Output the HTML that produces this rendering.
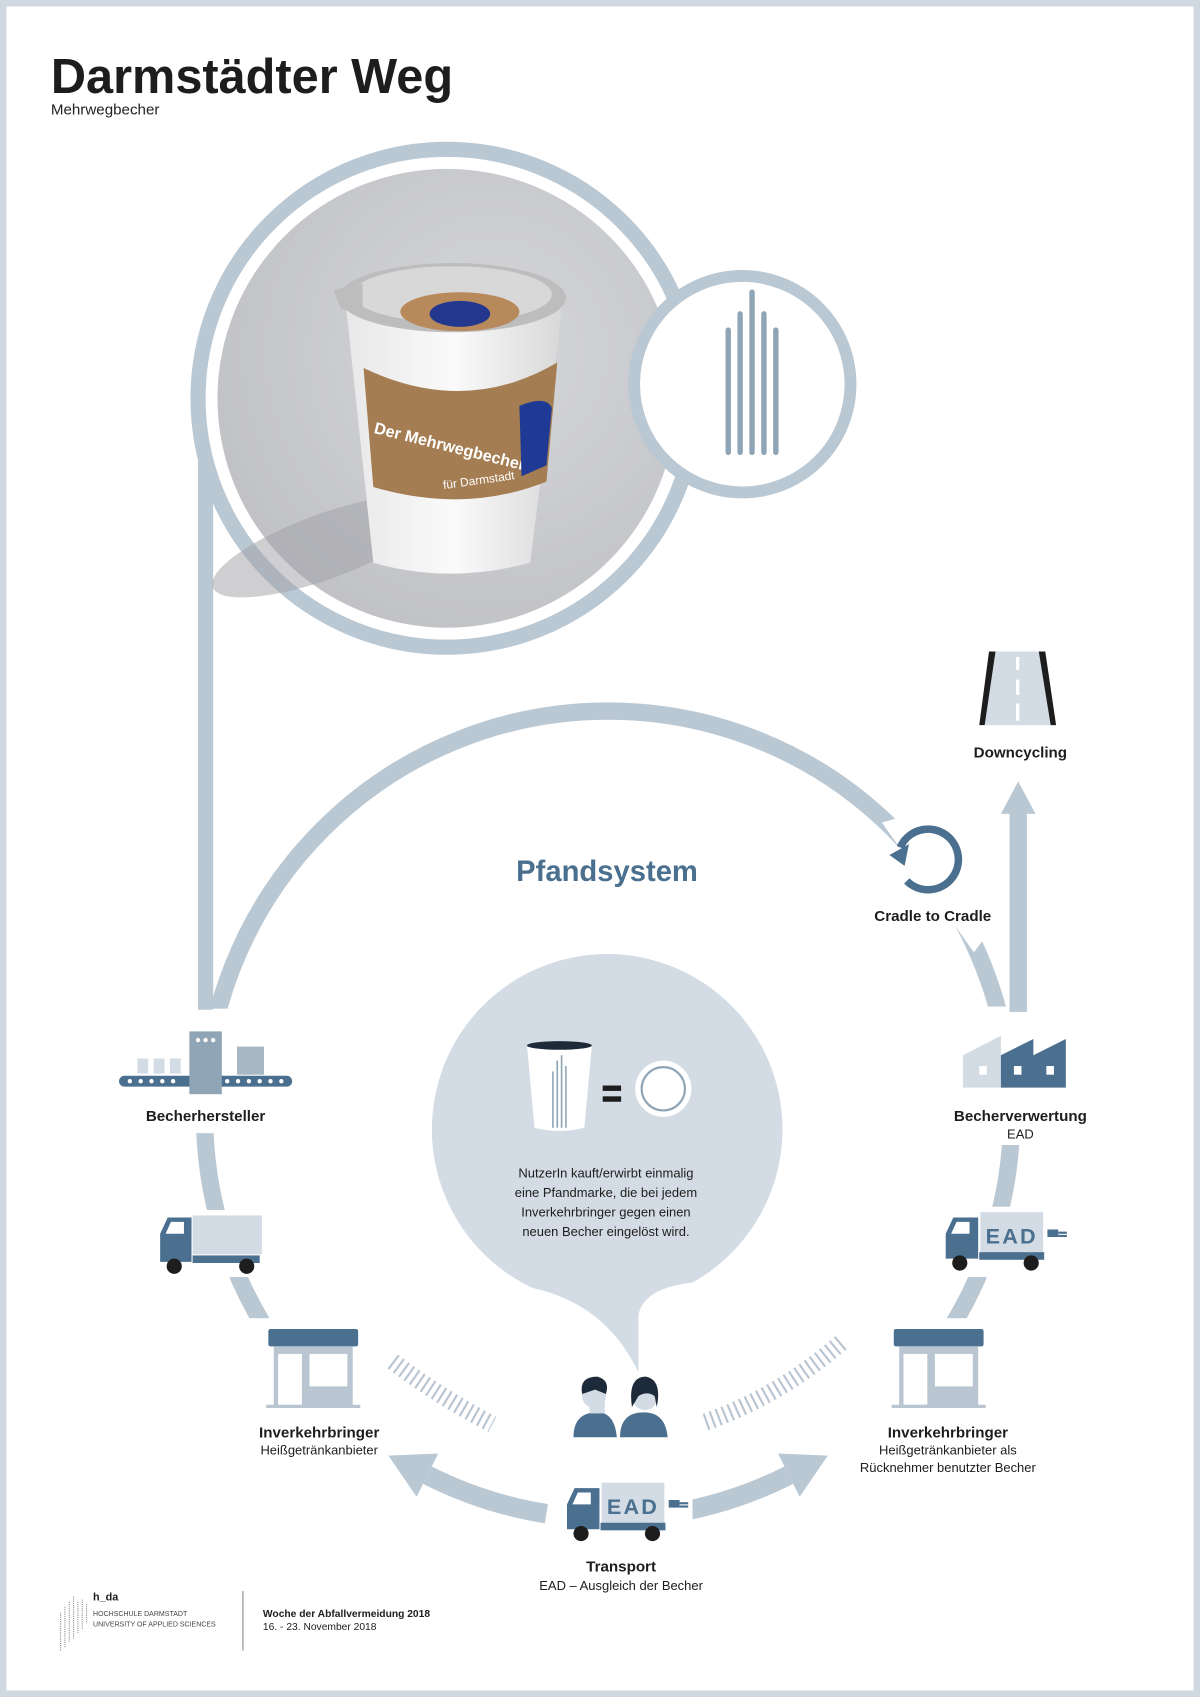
<!DOCTYPE html>
<html><head><meta charset="utf-8"><style>
html,body{margin:0;padding:0;background:#fff}
svg{display:block}
text{font-family:"Liberation Sans",sans-serif}
</style></head><body>
<svg width="1200" height="1697" viewBox="0 0 1109 1568" preserveAspectRatio="none" xmlns="http://www.w3.org/2000/svg">
<defs>
<radialGradient id="bg" cx="0.6" cy="0.4" r="0.7"><stop offset="0" stop-color="#d6d7da"/><stop offset="1" stop-color="#bfc0c4"/></radialGradient>
<linearGradient id="cup" x1="0" x2="1"><stop offset="0" stop-color="#e8e8e8"/><stop offset="0.5" stop-color="#fafafa"/><stop offset="1" stop-color="#d8d8d8"/></linearGradient>
</defs>
<rect x="3" y="3" width="1103" height="1562" fill="#fff" stroke="#d0d9e2" stroke-width="6"/>
<text x="47" y="86" font-size="45" font-weight="bold" fill="#1d1d1d">Darmstädter Weg</text>
<text x="47" y="106" font-size="14" fill="#222">Mehrwegbecher</text>

<circle cx="562" cy="1030" r="373" fill="none" stroke="#bac8d4" stroke-width="16"/>
<rect x="150" y="932" width="90" height="115" fill="#fff"/>
<rect x="140" y="1118" width="110" height="62" fill="#fff"/>
<rect x="225" y="1218" width="120" height="90" fill="#fff"/>
<rect x="230" y="1300" width="670" height="135" fill="#fff"/>
<rect x="795" y="1218" width="145" height="90" fill="#fff"/>
<rect x="870" y="1115" width="120" height="65" fill="#fff"/>
<rect x="880" y="930" width="110" height="128" fill="#fff"/>
<polygon points="815,760 850,750 915,860 900,880" fill="#fff"/>
<path d="M505,1398.6 A373,373 0 0 1 395,1363" fill="none" stroke="#bac8d4" stroke-width="18"/>
<polygon points="359,1345 405,1343 385,1383" fill="#bac8d4"/>
<path d="M619,1398.6 A373,373 0 0 0 729,1363" fill="none" stroke="#bac8d4" stroke-width="18"/>
<polygon points="765,1345 719,1343 739,1383" fill="#bac8d4"/>
<rect x="600" y="1380" width="40" height="50" fill="#fff"/>

<rect x="183" y="368" width="14" height="565" fill="#bac8d4"/>
<circle cx="413" cy="368" r="230" fill="#fff" stroke="#bac8d4" stroke-width="14"/>
<circle cx="413" cy="368" r="212" fill="url(#bg)"/>
<ellipse cx="300" cy="505" rx="110" ry="30" fill="#9fa0a6" opacity="0.5" transform="rotate(-20 300 505)"/>
<path d="M320,285 L345,520 Q415,540 490,520 L520,280 Z" fill="url(#cup)"/>
<path d="M336,340 Q430,385 515,335 L505,445 Q430,475 345,450 Z" fill="#a57d52"/>
<text x="345" y="400" font-size="15" font-weight="bold" fill="#fff" transform="rotate(14 345 400)">Der Mehrwegbecher</text>
<text x="410" y="452" font-size="11" fill="#fff" transform="rotate(-8 410 452)">für Darmstadt</text>
<path d="M480,375 Q505,365 510,377 L505,430 L482,440 Z" fill="#1f3a94"/>
<ellipse cx="418" cy="275" rx="105" ry="32" fill="#bdbdbd"/>
<ellipse cx="418" cy="272" rx="92" ry="26" fill="#d8d8d8"/>
<path d="M308,268 L335,262 L335,292 L315,285 Z" fill="#bdbdbd"/>
<ellipse cx="425" cy="288" rx="55" ry="18" fill="#b8895a"/>
<ellipse cx="425" cy="290" rx="28" ry="12" fill="#23378f"/>

<circle cx="686" cy="355" r="100" fill="#fff" stroke="#bac8d4" stroke-width="11"/>
<g stroke="#8fa5b5" stroke-width="5" stroke-linecap="round">
<line x1="673" y1="305" x2="673" y2="418"/><line x1="684" y1="290" x2="684" y2="418"/>
<line x1="695" y1="270" x2="695" y2="418"/><line x1="706" y1="290" x2="706" y2="418"/>
<line x1="717" y1="305" x2="717" y2="418"/></g>

<rect x="933" y="750" width="16" height="185" fill="#bac8d4"/>
<polygon points="925,752 941,722 957,752" fill="#bac8d4"/>
<polygon points="918,602 962,602 976,670 905,670" fill="#d3dce4"/>
<polygon points="914,602 920,602 910,670 905,670" fill="#1d1d1d"/>
<polygon points="960,602 966,602 976,670 971,670" fill="#1d1d1d"/>
<g fill="#fff"><rect x="939" y="607" width="3" height="12"/><rect x="939" y="628" width="3" height="14"/><rect x="939" y="650" width="3" height="16"/></g>
<text x="943" y="700" font-size="14" font-weight="bold" text-anchor="middle" fill="#1d1d1d">Downcycling</text>

<path d="M832,783 A28,28 0 1 1 838,814" fill="none" stroke="#4a6f8f" stroke-width="7"/>
<polygon points="822,790 840,780 836,800" fill="#4a6f8f"/>
<text x="862" y="851" font-size="14" font-weight="bold" text-anchor="middle" fill="#1d1d1d">Cradle to Cradle</text>

<text x="561" y="814" font-size="27" font-weight="bold" text-anchor="middle" fill="#4a6f8f">Pfandsystem</text>

<path d="M492,1190 A162,162 0 1 1 640,1185 Q595,1190 590,1215 L590,1268 Q560,1205 492,1190 Z" fill="#d3dce4"/>
<path d="M487,966 L547,966 L540,1042 Q517,1048 494,1042 Z" fill="#fff"/>
<ellipse cx="517" cy="966" rx="30" ry="4" fill="#1d2a3a"/>
<g stroke="#8fa5b5" stroke-width="1.5"><line x1="511" y1="990" x2="511" y2="1042"/><line x1="515" y1="980" x2="515" y2="1042"/><line x1="519" y1="975" x2="519" y2="1042"/><line x1="523" y1="985" x2="523" y2="1042"/></g>
<rect x="557" y="1003" width="17" height="5" fill="#1d1d1d"/><rect x="557" y="1013" width="17" height="5" fill="#1d1d1d"/>
<circle cx="613" cy="1006" r="26" fill="#fff"/><circle cx="613" cy="1006" r="20" fill="none" stroke="#8fa5b5" stroke-width="2"/>
<g font-size="12" text-anchor="middle" fill="#1d1d1d">
<text x="560" y="1088">NutzerIn kauft/erwirbt einmalig</text>
<text x="560" y="1106">eine Pfandmarke, die bei jedem</text>
<text x="560" y="1124">Inverkehrbringer gegen einen</text>
<text x="560" y="1142">neuen Becher eingelöst wird.</text></g>

<rect x="110" y="994" width="160" height="10" rx="5" fill="#4a6f8f"/>
<g fill="#fff"><circle cx="120" cy="999" r="2"/><circle cx="130" cy="999" r="2"/><circle cx="140" cy="999" r="2"/><circle cx="150" cy="999" r="2"/><circle cx="160" cy="999" r="2"/><circle cx="210" cy="999" r="2"/><circle cx="220" cy="999" r="2"/><circle cx="230" cy="999" r="2"/><circle cx="240" cy="999" r="2"/><circle cx="250" cy="999" r="2"/><circle cx="260" cy="999" r="2"/></g>
<g fill="#d3dce4"><rect x="127" y="978" width="10" height="14"/><rect x="142" y="978" width="10" height="14"/><rect x="157" y="978" width="10" height="14"/></g>
<rect x="175" y="953" width="30" height="58" fill="#8fa5b5"/>
<g fill="#fff"><circle cx="183" cy="961" r="2"/><circle cx="190" cy="961" r="2"/><circle cx="197" cy="961" r="2"/></g>
<rect x="219" y="967" width="25" height="26" fill="#a7b7c4"/>
<text x="190" y="1036" font-size="14" font-weight="bold" text-anchor="middle" fill="#1d1d1d">Becherhersteller</text>

<rect x="178" y="1123" width="64" height="36" fill="#d3dce4"/>
<path d="M148,1166 L148,1140 L155,1125 L177,1125 L177,1166 Z" fill="#4a6f8f"/>
<path d="M153,1140 L158,1129 L170,1129 L170,1140 Z" fill="#fff"/>
<rect x="178" y="1160" width="62" height="7" fill="#4a6f8f"/>
<circle cx="161" cy="1170" r="7" fill="#1d1d1d"/><circle cx="228" cy="1170" r="7" fill="#1d1d1d"/>

<g id="shop">
<rect x="248" y="1228" width="83" height="16" rx="2" fill="#4a6f8f"/>
<rect x="253" y="1244" width="73" height="55" fill="#b9c6d2"/>
<rect x="257" y="1251" width="22" height="47" fill="#fff"/>
<rect x="286" y="1251" width="35" height="30" fill="#fff"/>
<rect x="246" y="1298" width="87" height="3" fill="#b9c6d2"/>
</g>
<use href="#shop" x="578"/>
<text x="295" y="1328" font-size="14" font-weight="bold" text-anchor="middle" fill="#1d1d1d">Inverkehrbringer</text>
<text x="295" y="1344" font-size="12" text-anchor="middle" fill="#1d1d1d">Heißgetränkanbieter</text>
<text x="876" y="1328" font-size="14" font-weight="bold" text-anchor="middle" fill="#1d1d1d">Inverkehrbringer</text>
<text x="876" y="1344" font-size="12" text-anchor="middle" fill="#1d1d1d">Heißgetränkanbieter als</text>
<text x="876" y="1360" font-size="12" text-anchor="middle" fill="#1d1d1d">Rücknehmer benutzter Becher</text>

<path d="M363,1258 Q405,1290 455,1316" fill="none" stroke="#b9c6d2" stroke-width="16" stroke-dasharray="2 4"/>
<path d="M652,1314 Q720,1290 778,1240" fill="none" stroke="#b9c6d2" stroke-width="16" stroke-dasharray="2 4"/>

<path d="M530,1328 Q530,1305 552,1305 Q568,1305 570,1328 Z" fill="#4a6f8f"/>
<rect x="545" y="1290" width="14" height="16" fill="#d3dce4"/>
<circle cx="549" cy="1290" r="11" fill="#d3dce4"/>
<path d="M538,1288 Q535,1272 552,1272 Q564,1275 560,1288 L550,1284 Z" fill="#1d2a3a"/>
<path d="M573,1328 Q573,1305 595,1305 Q615,1305 617,1328 Z" fill="#4a6f8f"/>
<circle cx="596" cy="1292" r="11" fill="#d3dce4"/>
<path d="M584,1300 Q580,1272 597,1272 Q612,1275 607,1300 L605,1290 Q598,1285 590,1290 Z" fill="#1d2a3a"/>

<g id="ead">
<rect x="906" y="1120" width="58" height="38" fill="#d3dce4"/>
<text x="935" y="1149" font-size="20" font-weight="bold" text-anchor="middle" fill="#4a6f8f" letter-spacing="2">EAD</text>
<path d="M874,1163 L874,1140 L881,1125 L904,1125 L904,1163 Z" fill="#4a6f8f"/>
<path d="M879,1140 L884,1129 L896,1129 L896,1140 Z" fill="#fff"/>
<rect x="905" y="1157" width="60" height="7" fill="#4a6f8f"/>
<circle cx="887" cy="1167" r="7" fill="#1d1d1d"/><circle cx="953" cy="1167" r="7" fill="#1d1d1d"/>
<rect x="968" y="1136" width="10" height="7" fill="#4a6f8f"/><rect x="978" y="1138" width="8" height="2" fill="#4a6f8f"/><rect x="978" y="1141" width="8" height="2" fill="#4a6f8f"/>
</g>
<use href="#ead" x="-350" y="250"/>

<polygon points="890,975 925,957 925,1005 890,1005" fill="#d3dce4"/>
<polygon points="925,975 955,960 955,975 985,960 985,1005 925,1005" fill="#4a6f8f"/>
<g fill="#fff"><rect x="905" y="985" width="7" height="8"/><rect x="937" y="985" width="7" height="8"/><rect x="967" y="985" width="7" height="8"/></g>
<text x="943" y="1036" font-size="14" font-weight="bold" text-anchor="middle" fill="#1d1d1d">Becherverwertung</text>
<text x="943" y="1052" font-size="12" text-anchor="middle" fill="#1d1d1d">EAD</text>

<text x="574" y="1452" font-size="14" font-weight="bold" text-anchor="middle" fill="#1d1d1d">Transport</text>
<text x="574" y="1469" font-size="12" text-anchor="middle" fill="#1d1d1d">EAD – Ausgleich der Becher</text>

<g stroke="#8a8a8a" stroke-width="1" stroke-dasharray="1 1">
<line x1="56" y1="1490" x2="56" y2="1525"/><line x1="60" y1="1485" x2="60" y2="1522"/><line x1="64" y1="1480" x2="64" y2="1518"/><line x1="68" y1="1475" x2="68" y2="1515"/><line x1="72" y1="1480" x2="72" y2="1510"/><line x1="76" y1="1478" x2="76" y2="1505"/><line x1="80" y1="1482" x2="80" y2="1500"/></g>
<text x="86" y="1479" font-size="10" font-weight="bold" fill="#1d1d1d">h_da</text>
<text x="86" y="1493" font-size="6.5" fill="#444">HOCHSCHULE DARMSTADT</text>
<text x="86" y="1503" font-size="6.5" fill="#444">UNIVERSITY OF APPLIED SCIENCES</text>
<rect x="224" y="1470" width="1" height="55" fill="#888"/>
<text x="243" y="1494" font-size="9.5" font-weight="bold" fill="#1d1d1d">Woche der Abfallvermeidung 2018</text>
<text x="243" y="1506" font-size="9.5" fill="#1d1d1d">16. - 23. November 2018</text>
</svg>
</body></html>
